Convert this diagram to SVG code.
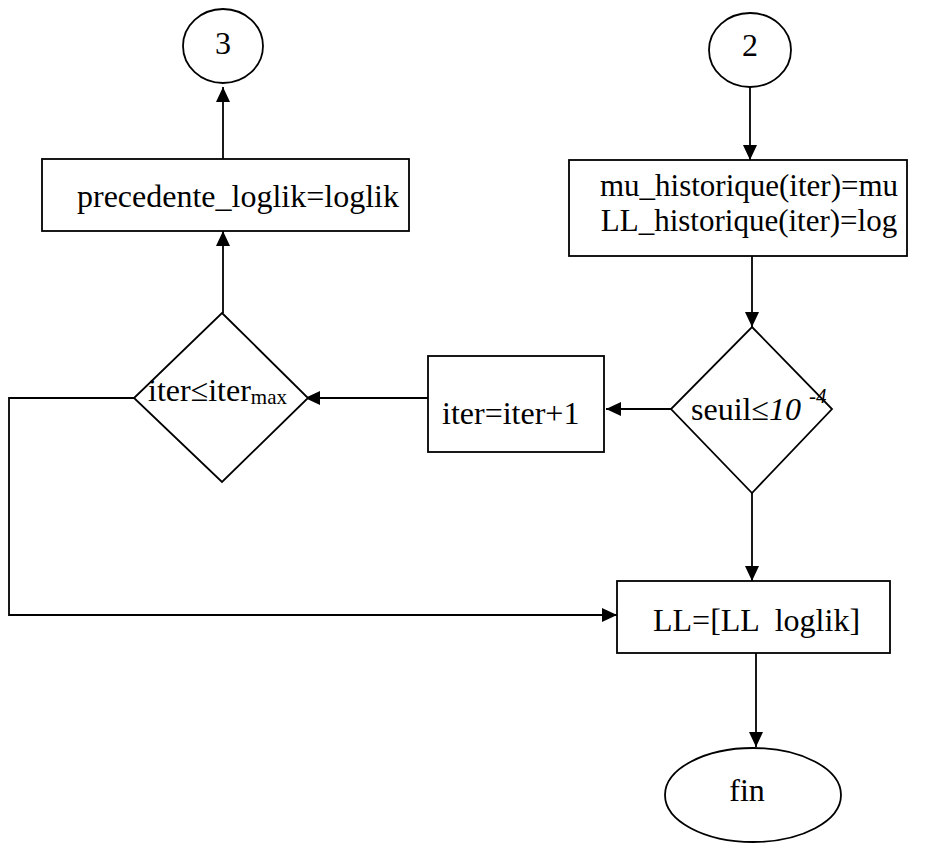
<svg xmlns="http://www.w3.org/2000/svg" width="928" height="843" viewBox="0 0 928 843">
  <defs>
    <marker id="arrow" viewBox="0 0 15 14" refX="15" refY="7" markerWidth="15" markerHeight="14" markerUnits="userSpaceOnUse" orient="auto">
      <path d="M0,0 L15,7 L0,14 Z" fill="#000"/>
    </marker>
  </defs>
  <style>
    .shape { fill: #fff; stroke: #000; stroke-width: 1.8; }
    .link { fill: none; stroke: #000; stroke-width: 1.8; marker-end: url(#arrow); }
    text { font-family: 'Liberation Serif', 'Times New Roman', Times, serif; font-size: 32px; fill: #000; }
    .small { font-size: 21px; }
    .two-line { font-size: 31px; }
  </style>
  <rect width="928" height="843" fill="#fff"/>

  <!-- connectors -->
  <g id="connectors">
    <line class="link" x1="223" y1="159" x2="223" y2="87"/>
    <line class="link" x1="223" y1="313" x2="223" y2="231"/>
    <line class="link" x1="750" y1="87" x2="750" y2="160"/>
    <line class="link" x1="752" y1="256" x2="752" y2="327"/>
    <line class="link" x1="671" y1="409" x2="606" y2="409"/>
    <line class="link" x1="428" y1="398" x2="305" y2="398"/>
    <line class="link" x1="752" y1="493" x2="752" y2="581"/>
    <polyline class="link" points="134,398 9,398 9,615 617,615"/>
    <line class="link" x1="756" y1="653" x2="756" y2="747"/>
  </g>

  <!-- connector 3 -->
  <g id="node-3">
    <ellipse class="shape" cx="223" cy="46" rx="40" ry="37"/>
    <text x="223" y="54" text-anchor="middle">3</text>
  </g>

  <!-- connector 2 -->
  <g id="node-2">
    <ellipse class="shape" cx="750" cy="50" rx="41" ry="37"/>
    <text x="750" y="56" text-anchor="middle">2</text>
  </g>

  <!-- update of previous log-likelihood -->
  <g id="node-precedente">
    <rect class="shape" x="42" y="159" width="367" height="72"/>
    <text x="77" y="207">precedente_loglik=loglik</text>
  </g>

  <!-- history storage -->
  <g id="node-historique">
    <rect class="shape" x="569" y="160" width="338" height="96"/>
    <text class="two-line" x="749" y="196" text-anchor="middle">mu_historique(iter)=mu</text>
    <text class="two-line" x="749" y="231" text-anchor="middle">LL_historique(iter)=log</text>
  </g>

  <!-- iteration test -->
  <g id="node-iter-test">
    <polygon class="shape" points="222,313 308,398 222,482 134,398"/>
    <text x="148" y="401">iter≤iter<tspan class="small" dy="3">max</tspan></text>
  </g>

  <!-- increment -->
  <g id="node-increment">
    <rect class="shape" x="428" y="356" width="176" height="96"/>
    <text x="442" y="424">iter=iter+1</text>
  </g>

  <!-- threshold test -->
  <g id="node-seuil">
    <polygon class="shape" points="752,327 832,409 752,493 671,409"/>
    <text x="691" y="420">seuil≤<tspan font-style="italic">10 </tspan><tspan class="small" font-style="italic" dy="-17">-4</tspan></text>
  </g>

  <!-- append log-likelihood -->
  <g id="node-LL">
    <rect class="shape" x="617" y="581" width="273" height="72"/>
    <text x="653" y="631" xml:space="preserve">LL=[LL  loglik]</text>
  </g>

  <!-- end -->
  <g id="node-fin">
    <ellipse class="shape" cx="753" cy="795" rx="88" ry="47"/>
    <text x="747" y="801" text-anchor="middle">fin</text>
  </g>
</svg>
